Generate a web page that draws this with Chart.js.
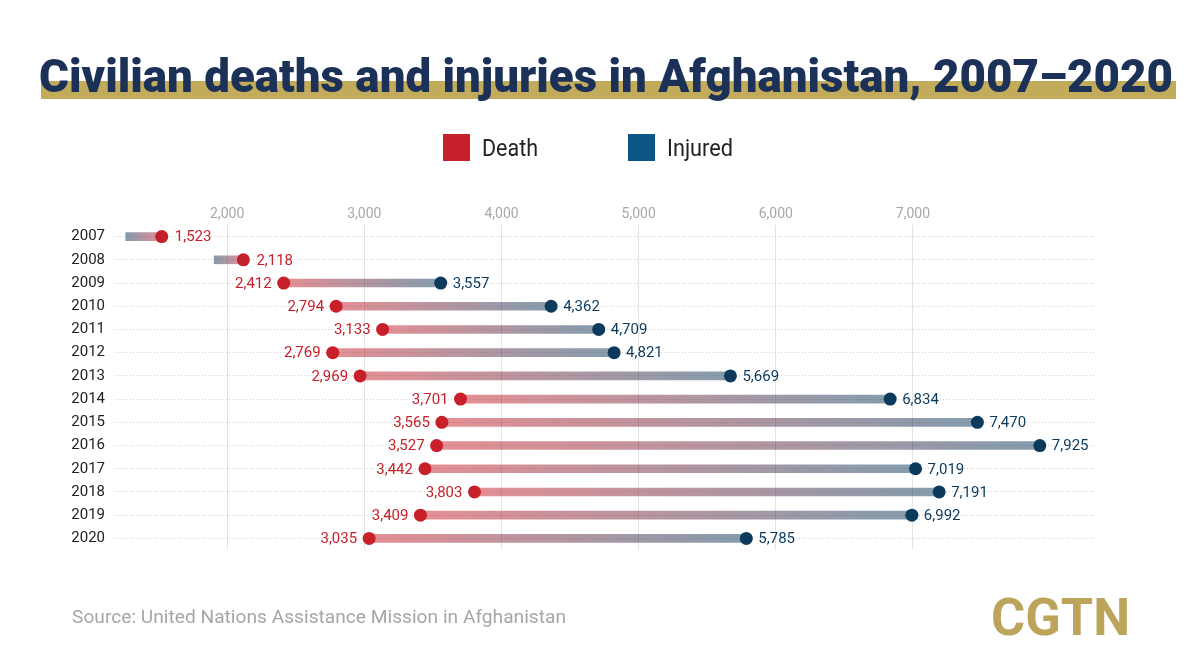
<!DOCTYPE html>
<html>
<head>
<meta charset="utf-8">
<script src="https://cdn.jsdelivr.net/npm/chart.js@4/dist/chart.umd.min.js"></script>
<style>
  html, body { margin: 0; padding: 0; background: #fff; }
  #chart { display: block; }
</style>
</head>
<body>
<canvas id="chart" width="1200" height="665"></canvas>
<script>
const years = ['2007', '2008', '2009', '2010', '2011', '2012', '2013', '2014', '2015', '2016', '2017', '2018', '2019', '2020'];
const death = [1523, 2118, 2412, 2794, 3133, 2769, 2969, 3701, 3565, 3527, 3442, 3803, 3409, 3035];
const injured = [null, null, 3557, 4362, 4709, 4821, 5669, 6834, 7470, 7925, 7019, 7191, 6992, 5785];
// 2007 and 2008 only have a short grey stub, no injured dot
const stubStart = [1260, 1905, null, null, null, null, null, null, null, null, null, null, null, null];
const xTicks = [2000, 3000, 4000, 5000, 6000, 7000];

const deathColor = '#c8202a';
const injuredColor = '#0b3a5c';
const fmt = v => v.toLocaleString('en-US');
const barFrom = i => injured[i] ?? stubStart[i];

Chart.defaults.font.family = 'Roboto';

// draw text squeezed/stretched to a given width
function drawFit(ctx, text, x, y, font, color, width) {
    ctx.save();
    ctx.font = font;
    ctx.fillStyle = color;
    ctx.textAlign = 'left';
    ctx.textBaseline = 'alphabetic';
    const w = ctx.measureText(text).width;
    ctx.translate(x, y);
    ctx.scale(width / w, 1);
    ctx.fillText(text, 0, 0);
    ctx.restore();
}

const decor = {
    id: 'decor',
    beforeDraw(chart) {
        const ctx = chart.ctx;
        ctx.save();
        ctx.fillStyle = '#fff';
        ctx.fillRect(0, 0, chart.width, chart.height);
        // title with gold band
        ctx.fillStyle = '#c3ab5c';
        ctx.fillRect(41, 81, 1135, 18);
        drawFit(ctx, 'Civilian deaths and injuries in Afghanistan, 2007–2020', 39, 92, '900 46px Roboto', '#1b3157', 1134);
        // legend
        ctx.fillStyle = deathColor;
        ctx.fillRect(443, 134, 27, 27);
        ctx.fillStyle = '#0b5587';
        ctx.fillRect(628, 134, 27, 27);
        drawFit(ctx, 'Death', 482, 156, '24px Roboto', '#222', 56);
        drawFit(ctx, 'Injured', 667, 156, '24px Roboto', '#222', 66);
        // footer
        drawFit(ctx, 'Source: United Nations Assistance Mission in Afghanistan', 72, 623, '19px Roboto', '#a6a6a6', 494);
        drawFit(ctx, 'CGTN', 991, 635, 'bold 52px Roboto', '#bca55a', 139);
        ctx.restore();
    }
};

const valueLabels = {
    id: 'valueLabels',
    afterDatasetsDraw(chart) {
        const { ctx, scales: { x, y } } = chart;
        ctx.save();
        ctx.font = '15px Roboto';
        ctx.textBaseline = 'middle';
        years.forEach((yr, i) => {
            const py = y.getPixelForValue(i) + 1;
            const dx = x.getPixelForValue(death[i]);
            ctx.fillStyle = deathColor;
            if (death[i] < barFrom(i)) {
                ctx.textAlign = 'right';
                ctx.fillText(fmt(death[i]), dx - 12, py);
            } else {
                ctx.textAlign = 'left';
                ctx.fillText(fmt(death[i]), dx + 13, py);
            }
            if (injured[i] != null) {
                const ix = x.getPixelForValue(injured[i]);
                ctx.fillStyle = injuredColor;
                ctx.textAlign = 'left';
                ctx.fillText(fmt(injured[i]), ix + 12, py);
            }
        });
        ctx.restore();
    }
};

const barGradient = (c) => {
    const chart = c.chart;
    const x = chart.scales.x;
    if (!chart.chartArea || !x || c.dataIndex === undefined) return '#bbb';
    const i = c.dataIndex;
    const x0 = x.getPixelForValue(barFrom(i));
    const x1 = x.getPixelForValue(death[i]);
    if (x0 === x1) return '#bbb';
    const g = chart.ctx.createLinearGradient(x0, 0, x1, 0);
    g.addColorStop(0, 'rgba(11,58,92,0.5)');
    g.addColorStop(1, 'rgba(200,32,42,0.5)');
    return g;
};

new Chart(document.getElementById('chart'), {
    type: 'bar',
    data: {
        labels: years,
        datasets: [
            {
                label: 'range',
                data: years.map((yr, i) => [barFrom(i), death[i]]),
                backgroundColor: barGradient,
                borderWidth: 0,
                borderSkipped: false,
                barThickness: 8,
                indexAxis: 'y',
            },
            {
                type: 'line',
                label: 'Death',
                data: death,
                showLine: false,
                pointRadius: 6.5,
                pointHoverRadius: 6.5,
                pointBorderWidth: 0,
                pointBackgroundColor: deathColor,
                indexAxis: 'y',
            },
            {
                type: 'line',
                label: 'Injured',
                data: injured,
                showLine: false,
                pointRadius: 6.5,
                pointHoverRadius: 6.5,
                pointBorderWidth: 0,
                pointBackgroundColor: injuredColor,
                indexAxis: 'y',
            },
        ],
    },
    options: {
        indexAxis: 'y',
        responsive: false,
        animation: false,
        layout: { padding: { left: 60, right: 106, top: 190, bottom: 115 } },
        plugins: {
            legend: { display: false },
            tooltip: { enabled: false },
        },
        scales: {
            x: {
                type: 'linear',
                position: 'top',
                min: 1182,
                max: 8320,
                afterBuildTicks: (scale) => { scale.ticks = xTicks.map(v => ({ value: v })); },
                afterFit: (scale) => { scale.height = 35; },
                grid: { color: '#e4e4e4', drawTicks: false },
                border: { display: false },
                ticks: {
                    color: '#a8a8a8',
                    font: { size: 14 },
                    padding: 2,
                    callback: v => fmt(v),
                },
            },
            y: {
                type: 'category',
                afterFit: (scale) => { scale.width = 55; },
                grid: { offset: false, color: '#cfcfcf', drawTicks: false },
                border: { display: false, dash: [1, 2] },
                ticks: { color: '#222', font: { size: 15 }, padding: 10 },
            },
        },
    },
    plugins: [decor, valueLabels],
});
</script>
</body>
</html>
